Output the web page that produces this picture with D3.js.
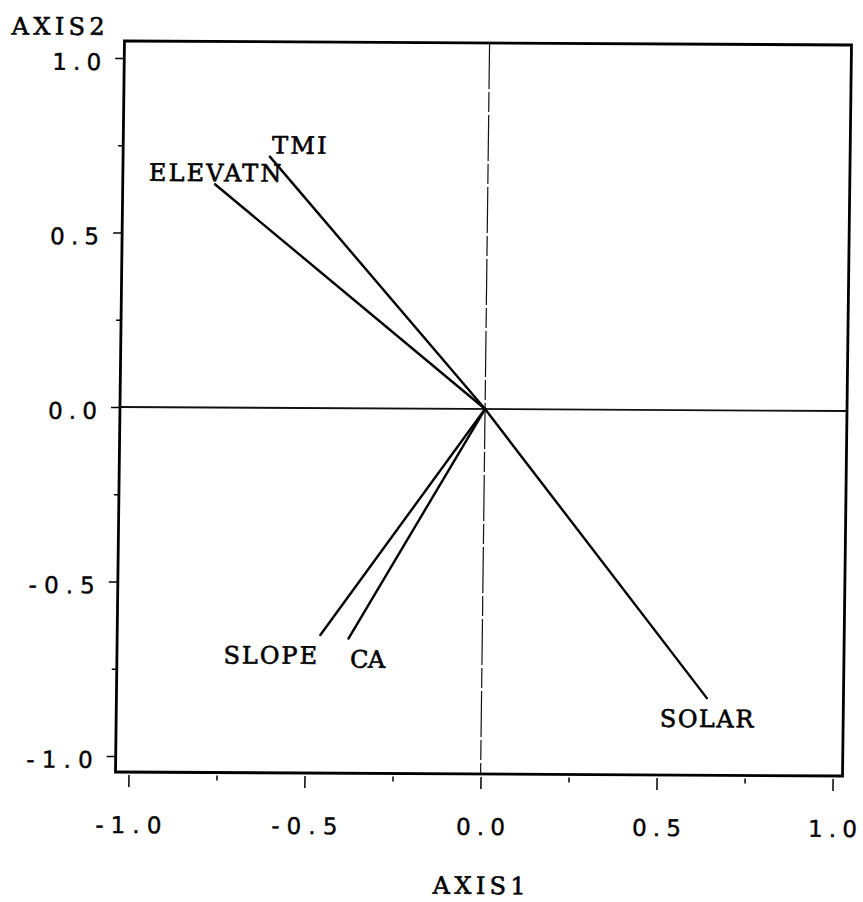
<!DOCTYPE html>
<html>
<head>
<meta charset="utf-8">
<script src="https://cdn.jsdelivr.net/npm/d3@7"></script>
<style>
  html, body { margin: 0; padding: 0; background: #fff; }
  svg { display: block; }
</style>
</head>
<body>
<script>
// Biplot vectors: variable loadings on the first two axes
const variables = ["TMI", "ELEVATN", "SLOPE", "CA", "SOLAR"];
const axis1Loadings = [-0.62, -0.775, -0.46, -0.38, 0.64];
const axis2Loadings = [0.72, 0.64, -0.65, -0.66, -0.825];
// which side of the vector tip each name sits on
const labelAnchors = ["start", "middle", "end", "start", "middle"];

const majorTicks = [-1.0, -0.5, 0.0, 0.5, 1.0];
const minorTicks = [-0.75, -0.25, 0.25, 0.75];
const xTitle = "AXIS1";
const yTitle = "AXIS2";

const W = 863, H = 902;
const frame = { left: 120, right: 847, top: 43, bottom: 774 };

const svg = d3.select("body").append("svg")
  .attr("width", W).attr("height", H)
  .attr("viewBox", `0 0 ${W} ${H}`);

svg.append("rect").attr("width", W).attr("height", H).attr("fill", "#fff");

// slight skew of the printed page
const g = svg.append("g")
  .attr("transform", "matrix(1,0.0055,-0.0123,1,5.02,-2.66)");

const x = d3.scaleLinear().domain([-1.037, 1.028]).range([frame.left, frame.right]);
const y = d3.scaleLinear().domain([-1.046, 1.049]).range([frame.bottom, frame.top]);

const serif = "'DejaVu Serif', 'Liberation Serif', serif";
const sans = "'DejaVu Sans', 'Liberation Sans', sans-serif";

// monospace-like width for a string
const monoLen = (s, adv, trim) => s.length * adv - trim;
const fmt = d => d.toFixed(1);

// reference lines through the origin
g.append("line")
  .attr("x1", x(0)).attr("x2", x(0))
  .attr("y1", frame.top).attr("y2", frame.bottom)
  .attr("stroke", "#111").attr("stroke-width", 1.2)
  .attr("stroke-dasharray", "46,3,20,3");
g.append("line")
  .attr("x1", frame.left).attr("x2", frame.right)
  .attr("y1", y(0)).attr("y2", y(0))
  .attr("stroke", "#111").attr("stroke-width", 1.8);

// frame
g.append("rect")
  .attr("x", frame.left).attr("y", frame.top)
  .attr("width", frame.right - frame.left)
  .attr("height", frame.bottom - frame.top)
  .attr("fill", "none").attr("stroke", "#000").attr("stroke-width", 2.8);

// bottom axis
const xMajor = g.append("g")
  .attr("transform", `translate(0,${frame.bottom + 3})`)
  .call(d3.axisBottom(x).tickValues(majorTicks).tickSize(12).tickFormat(fmt));
const xMinor = g.append("g")
  .attr("transform", `translate(0,${frame.bottom + 3})`)
  .call(d3.axisBottom(x).tickValues(minorTicks).tickSize(5).tickFormat(""));

// left axis
const yMajor = g.append("g")
  .attr("transform", `translate(${frame.left},0)`)
  .call(d3.axisLeft(y).tickValues(majorTicks).tickSize(9).tickFormat(fmt));
const yMinor = g.append("g")
  .attr("transform", `translate(${frame.left},0)`)
  .call(d3.axisLeft(y).tickValues(minorTicks).tickSize(5).tickFormat(""));

[xMajor, xMinor, yMajor, yMinor].forEach(a => {
  a.select(".domain").remove();
  a.selectAll(".tick line").attr("stroke", "#000").attr("stroke-width", 1.5);
});

const styleTickText = sel => sel
  .attr("font-family", sans).attr("font-size", 23).attr("fill", "#000")
  .attr("stroke", "#000").attr("stroke-width", 0.4)
  .each(function () {
    const t = d3.select(this).text();
    d3.select(this).attr("textLength", monoLen(t, 17.3, 3)).attr("lengthAdjust", "spacing");
  });

styleTickText(xMajor.selectAll(".tick text")
  .attr("y", 835 - (frame.bottom + 3)).attr("dy", null)
  .attr("text-anchor", "middle"));

styleTickText(yMajor.selectAll(".tick text")
  .attr("x", -(frame.left - 97)).attr("dy", null).attr("y", 11.5)
  .attr("text-anchor", "end"));

const styleLabel = sel => sel
  .attr("font-family", serif).attr("font-size", 24).attr("fill", "#000")
  .attr("stroke", "#000").attr("stroke-width", 0.6);

// axis titles
styleLabel(g.append("text")
  .attr("x", 7).attr("y", 37)
  .attr("textLength", monoLen(yTitle, 19.4, 4)).attr("lengthAdjust", "spacing")
  .text(yTitle));
styleLabel(g.append("text")
  .attr("x", x(0)).attr("y", 894)
  .attr("text-anchor", "middle")
  .attr("textLength", monoLen(xTitle, 19.4, 4)).attr("lengthAdjust", "spacing")
  .text(xTitle));

// vectors from the origin
const vecs = variables.map((name, i) => ({
  name, a1: axis1Loadings[i], a2: axis2Loadings[i], anchor: labelAnchors[i]
}));

g.selectAll("line.vec").data(vecs).join("line")
  .attr("class", "vec")
  .attr("x1", x(0)).attr("y1", y(0))
  .attr("x2", d => x(d.a1)).attr("y2", d => y(d.a2))
  .attr("stroke", "#000").attr("stroke-width", 2.4)
  .attr("stroke-linecap", "round");

const dxFor = { start: 2, middle: 0, end: -3 };
styleLabel(g.selectAll("text.vlabel").data(vecs).join("text")
  .attr("class", "vlabel")
  .attr("x", d => x(d.a1) + dxFor[d.anchor])
  .attr("y", d => y(d.a2) + (d.a2 >= 0 ? -3 : 29))
  .attr("text-anchor", d => d.anchor)
  .attr("textLength", d => monoLen(d.name, 19.5, 4)).attr("lengthAdjust", "spacing")
  .text(d => d.name));
</script>
</body>
</html>
